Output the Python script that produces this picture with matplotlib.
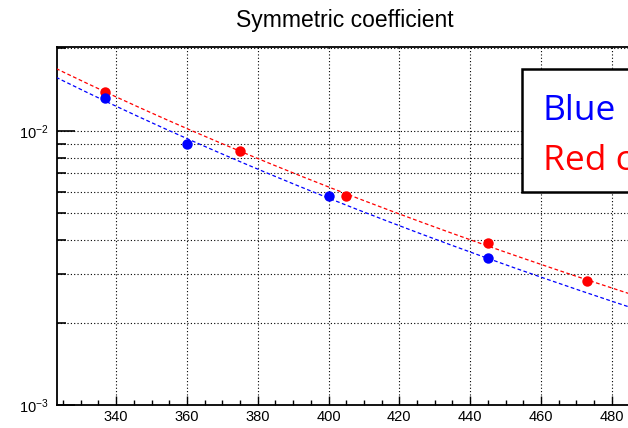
import numpy as np
import matplotlib
matplotlib.use('Agg')
import matplotlib.pyplot as plt
from matplotlib.patches import Rectangle
from matplotlib.ticker import LogLocator, MultipleLocator, NullFormatter, FixedLocator, FixedFormatter

plt.rcParams['font.family'] = ['Liberation Sans', 'DejaVu Sans']
plt.rcParams['mathtext.fontset'] = 'custom'
plt.rcParams['mathtext.rm'] = 'Liberation Sans'
plt.rcParams['mathtext.it'] = 'Liberation Sans'

# data
blue_x = [337, 360, 400, 445]
blue_y = [0.01323, 0.00894, 0.00579, 0.00343]
red_x = [337, 375, 405, 445, 473]
red_y = [0.01391, 0.00845, 0.0058, 0.00389, 0.002835]

x_ticks = [340, 360, 380, 400, 420, 440, 460, 480]
y_ticks = [1e-3, 1e-2]
y_tick_labels = ['$10^{-3}$', '$10^{-2}$']
# the legend is cut off at the right edge of the original picture
legend_lines = ['Blue', 'Red curve']

W, H = 628, 428
fig = plt.figure(figsize=(W / 100, H / 100), dpi=100)
ax = fig.add_axes([57 / W, 23 / H, 625.5 / W, 358 / H])

xmin, xmax = 323.3, 500
ymin, ymax = 1e-3, 0.02025


def powerfit(xs, ys):
    b, a = np.polyfit(np.log10(xs), np.log10(ys), 1)
    return lambda x: 10 ** (a + b * np.log10(x))


xx = np.linspace(xmin - 5, xmax + 5, 300)
fr = powerfit(red_x, red_y)
fb = powerfit(blue_x, blue_y)
ax.plot(xx, fr(xx), color='#ff0000', lw=0.9, ls=(0, (3, 2)), zorder=3)
ax.plot(xx, fb(xx), color='#0000ff', lw=0.9, ls=(0, (3, 2)), zorder=3)
ax.plot(red_x, red_y, 'o', color='#ff0000', ms=7.5, mew=0, zorder=4)
ax.plot(blue_x, blue_y, 'o', color='#0000ff', ms=7.5, mew=0, zorder=5)

ax.set_yscale('log')
ax.set_xlim(xmin, xmax)
ax.set_ylim(ymin, ymax)

ax.xaxis.set_major_locator(FixedLocator(x_ticks))
ax.xaxis.set_minor_locator(MultipleLocator(5))
ax.yaxis.set_major_locator(FixedLocator(y_ticks))
ax.yaxis.set_major_formatter(FixedFormatter(y_tick_labels))
ax.yaxis.set_minor_locator(LogLocator(base=10, subs=np.arange(2, 10)))
ax.yaxis.set_minor_formatter(NullFormatter())

ax.tick_params(axis='x', which='major', direction='in', length=6.5, width=1,
               labelsize=10.5, pad=3.5, top=False)
ax.tick_params(axis='x', which='minor', direction='in', length=3.3, width=1, top=False)
ax.tick_params(axis='y', which='major', direction='in', length=13, width=1.2,
               labelsize=10.5, pad=6, right=False)
ax.tick_params(axis='y', which='minor', direction='in', length=6.5, width=1.2, right=False)

grid_kw = dict(color='black', lw=0.8, ls=(0, (1, 2)))
ax.grid(True, which='major', axis='x', **grid_kw)
ax.grid(True, which='both', axis='y', **grid_kw)
ax.set_axisbelow(True)

for s in ax.spines.values():
    s.set_linewidth(1.3)

fig.text(345 / W, 1 - 26.7 / H, 'Symmetric coefficient', ha='center',
         va='baseline', fontsize=16.5)

# legend box (cut off at the right edge in the original)
fig.add_artist(Rectangle((521.7 / W, 1 - 191.7 / H), 0.3, 122.4 / H,
                         transform=fig.transFigure, facecolor='white',
                         edgecolor='black', lw=1.8, zorder=5))
fig.text(543 / W, 1 - 120 / H, legend_lines[0], color='#0000ff', fontsize=25.5,
         family=['Open Sans', 'DejaVu Sans'], va='baseline', zorder=6)
fig.text(543 / W, 1 - 170 / H, legend_lines[1], color='#ff0000', fontsize=25.5,
         family=['Open Sans', 'DejaVu Sans'], va='baseline', zorder=6)

fig.savefig('out.png', dpi=100)
